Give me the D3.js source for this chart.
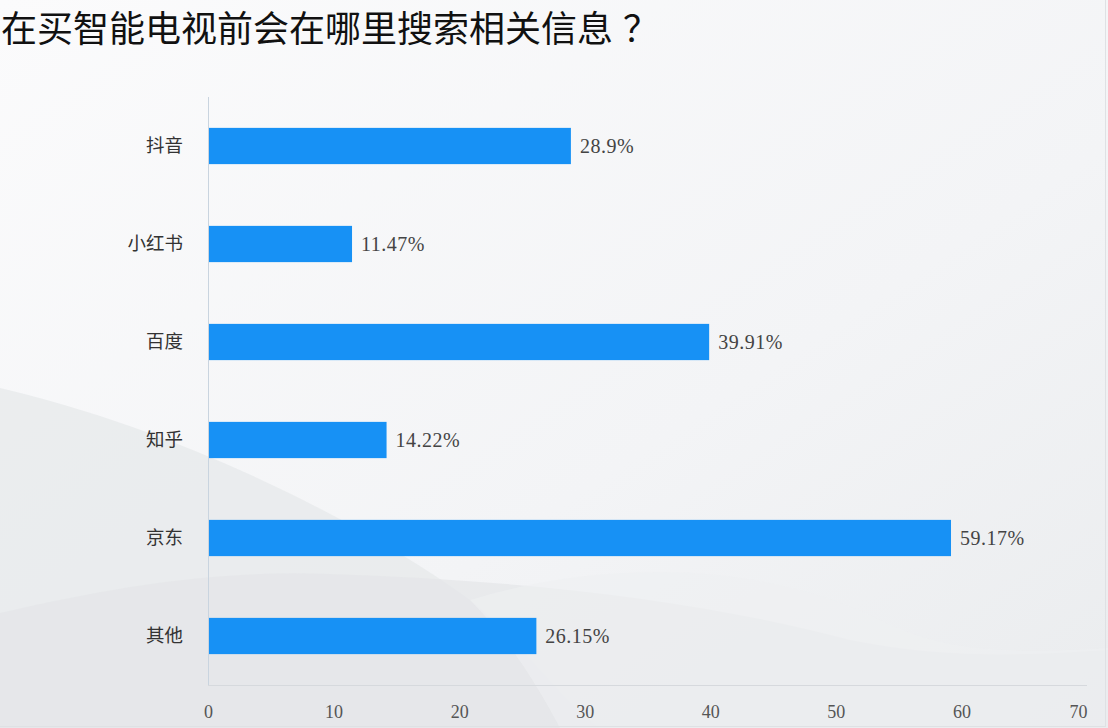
<!DOCTYPE html>
<html>
<head>
<meta charset="utf-8">
<script src="https://cdn.jsdelivr.net/npm/d3@7"></script>
<style>
  html, body { margin: 0; padding: 0; background: #f6f7f9; }
  svg { display: block; }
</style>
</head>
<body>
<svg id="chart" width="1108" height="728"></svg>
<script>
"use strict"

// data
const categories = ["抖音", "小红书", "百度", "知乎", "京东", "其他"];
const values = [28.9, 11.47, 39.91, 14.22, 59.17, 26.15];
const valueLabels = ["28.9%", "11.47%", "39.91%", "14.22%", "59.17%", "26.15%"];
const xTicks = [0, 10, 20, 30, 40, 50, 60, 70];
const titleMain = "在买智能电视前会在哪里搜索相关信息";
const titleMark = "？";

const svg = d3.select("#chart");
const W = 1108, H = 728;
const margin = {top: 97, right: 21, bottom: 43, left: 208};

// ---- background: soft gradient and grey waves
const defs = svg.append("defs");
const bg = defs.append("linearGradient").attr("id", "bg")
  .attr("x1", "0").attr("y1", "0").attr("x2", "1").attr("y2", "1");
bg.append("stop").attr("offset", "0").attr("stop-color", "#fbfbfc");
bg.append("stop").attr("offset", "0.6").attr("stop-color", "#f3f4f6");
bg.append("stop").attr("offset", "1").attr("stop-color", "#eaecee");

svg.append("rect").attr("width", W).attr("height", H).attr("fill", "url(#bg)");

// big diagonal wave from the left
svg.append("path")
  .attr("d", "M0,388 C180,430 360,520 470,600 C520,640 560,700 600,728 L0,728 Z")
  .attr("fill", "#e6e8ea").attr("opacity", 0.7);
// wave over the bottom
svg.append("path")
  .attr("d", "M0,613 C120,585 220,570 330,574 C520,580 700,600 850,640 C950,660 1030,655 1108,650 L1108,728 L0,728 Z")
  .attr("fill", "#e4e6e8").attr("opacity", 0.7);
// lighter highlight sweep on the right
svg.append("path")
  .attr("d", "M470,600 C600,560 760,560 880,620 C940,650 1000,655 1108,648 L1108,728 L560,728 C540,690 510,640 470,600 Z")
  .attr("fill", "#eff0f2").attr("opacity", 0.6);

// thin frame on right and bottom edges
svg.append("line").attr("x1", 1105.5).attr("x2", 1105.5).attr("y1", 0).attr("y2", 727)
  .attr("stroke", "#dfe1e4").attr("stroke-width", 1);
svg.append("line").attr("x1", 0).attr("x2", 1106).attr("y1", 726.5).attr("y2", 726.5)
  .attr("stroke", "#dfe1e4").attr("stroke-width", 1);

// ---- title
const titleText = svg.append("text")
  .attr("x", 1).attr("y", 42)
  .style("font-family", "'Noto Sans CJK SC', sans-serif")
  .style("font-size", "36px")
  .style("fill", "#111");
titleText.append("tspan").text(titleMain);
titleText.append("tspan").attr("dx", 10).text(titleMark);

// ---- scales
const x = d3.scaleLinear()
  .domain([0, 70])
  .range([margin.left, W - margin.right]);

const y = d3.scaleBand()
  .domain(categories)
  .range([margin.top, H - margin.bottom])
  .paddingInner(0.63)
  .paddingOuter(0.315);

const g = svg.append("g");

// vertical axis line
g.append("line")
  .attr("x1", x(0) + 0.5).attr("x2", x(0) + 0.5)
  .attr("y1", margin.top).attr("y2", H - margin.bottom)
  .attr("stroke", "#c9d4df").attr("stroke-width", 1);

// horizontal axis line
g.append("line")
  .attr("x1", x(0)).attr("x2", x(70))
  .attr("y1", H - margin.bottom + 0.5).attr("y2", H - margin.bottom + 0.5)
  .attr("stroke", "#d6d9dd").attr("stroke-width", 1);

// x axis tick labels
const xAxis = g.append("g")
  .attr("transform", `translate(0,${H - margin.bottom})`)
  .call(d3.axisBottom(x).tickValues(xTicks).tickSize(0).tickPadding(20));
xAxis.select(".domain").remove();
xAxis.selectAll(".tick text")
  .style("font-family", "'Liberation Serif', 'Times New Roman', serif")
  .style("font-size", "18px")
  .style("fill", "#555")
  .attr("text-anchor", d => d === 70 ? "end" : "middle");

// category labels
const yAxis = g.append("g")
  .attr("transform", `translate(${x(0)},0)`)
  .call(d3.axisLeft(y).tickSize(0).tickPadding(25));
yAxis.select(".domain").remove();
yAxis.selectAll(".tick text")
  .style("font-family", "'Noto Sans CJK SC', sans-serif")
  .style("font-size", "18.5px")
  .style("fill", "#333");

// bars
g.selectAll(".bar")
  .data(values)
  .enter().append("rect")
    .attr("class", "bar")
    .attr("x", x(0) + 1)
    .attr("y", (d, i) => y(categories[i]))
    .attr("width", d => x(d) - x(0) - 1)
    .attr("height", y.bandwidth())
    .attr("fill", "#1791f5");

// value labels
g.selectAll(".value")
  .data(values)
  .enter().append("text")
    .attr("class", "value")
    .attr("x", d => x(d) + 9)
    .attr("y", (d, i) => y(categories[i]) + y.bandwidth() / 2)
    .attr("dy", "0.35em")
    .style("font-family", "'Liberation Serif', 'Times New Roman', serif")
    .style("font-size", "20px")
    .style("letter-spacing", "0.5px")
    .style("fill", "#444")
    .text((d, i) => valueLabels[i]);
</script>
</body>
</html>
